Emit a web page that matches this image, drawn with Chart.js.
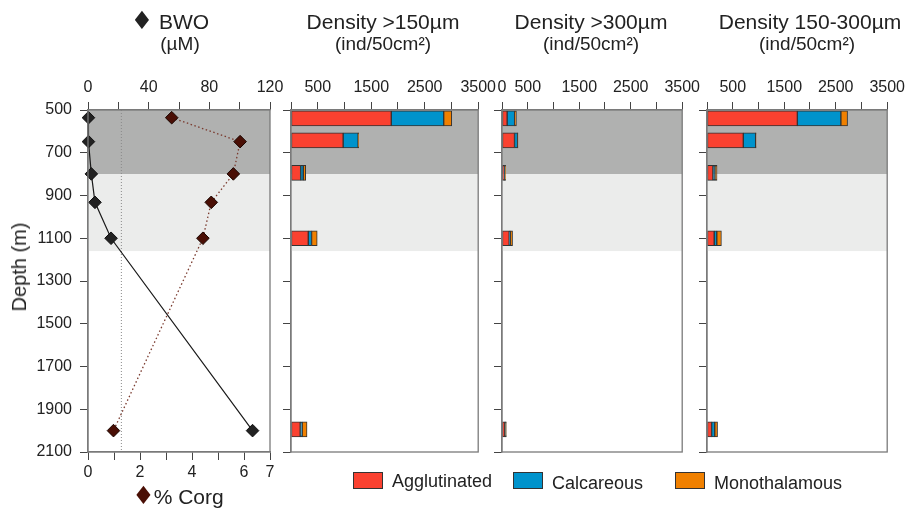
<!DOCTYPE html>
<html>
<head>
<meta charset="utf-8">
<script src="https://cdn.jsdelivr.net/npm/chart.js@4.4.0/dist/chart.umd.min.js"></script>
<style>
  body { margin: 0; background: #fff; font-family: "Liberation Sans", Arial, sans-serif; color: #222; }
  #wrap { position: relative; width: 914px; height: 508px; overflow: hidden; }
  canvas { position: absolute; top: 0; }
  .txt { position: absolute; white-space: nowrap; z-index: 5; }
  .ctr { transform: translateX(-50%); }
  .ttl { font-size: 21px; line-height: 21px; top: 11px; }
  .sub { font-size: 19px; line-height: 19px; top: 34px; }
  .dia { font-family: "DejaVu Sans", sans-serif; font-size: 25px; line-height: 0; }
  .box { position: absolute; width: 28px; height: 15px; border: 1px solid #333; z-index: 5; }
  .leg { font-size: 18px; line-height: 18px; }
</style>
</head>
<body>
<div id="wrap">
  <canvas id="p1" width="292" height="508" style="left:0px"></canvas>
  <canvas id="p2" width="222" height="508" style="left:279px"></canvas>
  <canvas id="p3" width="215" height="508" style="left:490px"></canvas>
  <canvas id="p4" width="215" height="508" style="left:695px"></canvas>

  <div class="txt ttl ctr" style="left:170px"><span class="dia">♦</span> BWO</div>
  <div class="txt sub ctr" style="left:180px">(µM)</div>
  <div class="txt ttl ctr" style="left:383px">Density &gt;150µm</div>
  <div class="txt sub ctr" style="left:383px">(ind/50cm²)</div>
  <div class="txt ttl ctr" style="left:591px">Density &gt;300µm</div>
  <div class="txt sub ctr" style="left:591px">(ind/50cm²)</div>
  <div class="txt ttl ctr" style="left:810px">Density 150-300µm</div>
  <div class="txt sub ctr" style="left:807px">(ind/50cm²)</div>

  <div class="txt" style="left:19px;top:267px;font-size:20px;line-height:20px;transform:translate(-50%,-50%) rotate(-90deg)">Depth (m)</div>
  <div class="txt ctr" style="left:178px;top:486px;font-size:21px;line-height:21px"><span class="dia" style="color:#4a0f05;margin-right:-1px">♦</span>% Corg</div>

  <div class="box" style="left:353px;top:472px;background:#fa4130"></div>
  <div class="txt leg" style="left:392px;top:472px">Agglutinated</div>
  <div class="box" style="left:513px;top:472px;background:#0093cc"></div>
  <div class="txt leg" style="left:552px;top:474px">Calcareous</div>
  <div class="box" style="left:675px;top:472px;background:#f08000"></div>
  <div class="txt leg" style="left:714px;top:474px">Monothalamous</div>
</div>

<script>
// 관측 정점 수심 (m) 과 프로파일 값
const stationDepth = [536, 648, 799, 932, 1100, 2000];
const bwo = [0.3, 0.3, 2.2, 4.6, 15.2, 108.5];
const corg = [3.22, 5.85, 5.59, 4.74, 4.42, 0.98];
const bwoThreshold = 22;

// 음영 구간 (m)
const zoneTop = [500, 800];
const zoneBottom = [800, 1160];

// 막대 수심 (m)
const barDepth = [539, 642, 794, 1100, 1994];

// Density >150µm
const agg150 = [1875, 975, 180, 323, 172];
const calc150 = [980, 280, 50, 62, 37];
const mono150 = [150, 10, 45, 105, 91];

// Density >300µm
const agg300 = [100, 243, 48, 140, 55];
const calc300 = [145, 60, 6, 20, 10];
const mono300 = [35, 8, 16, 45, 20];

// Density 150-300µm
const aggMid = [1755, 705, 115, 140, 90];
const calcMid = [845, 240, 40, 50, 60];
const monoMid = [130, 10, 40, 90, 55];

const groupNames = ['Agglutinated', 'Calcareous', 'Monothalamous'];

// 눈금 라벨
const bwoLabels = [0, 40, 80, 120];
const corgLabels = [0, 2, 4, 6, 7];
const densityLabels = [500, 1500, 2500, 3500];
const densityLabels300 = [0, 500, 1500, 2500, 3500];

const zoneColors = ['#b0b1b0', '#ebeceb'];
const groupColors = ['#fa4130', '#0093cc', '#f08000'];

Chart.defaults.font.family = '"Liberation Sans", Arial, sans-serif';
Chart.defaults.font.size = 16;
Chart.defaults.color = '#222';
Chart.defaults.animation = false;
Chart.defaults.plugins.legend.display = false;
Chart.defaults.plugins.tooltip.enabled = false;

// 음영 구간과 테두리
const zonePlugin = {
  id: 'zones',
  beforeDatasetsDraw(chart) {
    const { ctx, chartArea, scales } = chart;
    const y = scales.y;
    ctx.save();
    zoneTop.forEach((t, i) => {
      const y1 = y.getPixelForValue(t);
      const y2 = y.getPixelForValue(zoneBottom[i]);
      ctx.fillStyle = zoneColors[i];
      ctx.fillRect(chartArea.left, y1, chartArea.right - chartArea.left, y2 - y1);
    });
    ctx.restore();
  },
  afterDatasetsDraw(chart) {
    const { ctx, chartArea } = chart;
    ctx.save();
    ctx.strokeStyle = '#7a7a7a';
    ctx.lineWidth = 1.3;
    ctx.strokeRect(chartArea.left, chartArea.top, chartArea.right - chartArea.left, chartArea.bottom - chartArea.top);
    ctx.restore();
  }
};

const tickGrid = { display: true, drawOnChartArea: false, drawTicks: true, tickLength: 8, color: '#444', offset: false };
const axisBorder = { display: true, color: '#7a7a7a', width: 1.3 };

function depthAxis(width, showLabels) {
  return {
    type: 'linear',
    min: 500,
    max: 2100,
    reverse: true,
    offset: false,
    stacked: true,
    ticks: { stepSize: 200, padding: 8, display: showLabels, autoSkip: false, callback: (v) => String(v) },
    grid: tickGrid,
    border: axisBorder,
    afterFit: (s) => { s.width = width; }
  };
}

function topAxis(min, max, step, labels, height) {
  return {
    type: 'linear',
    position: 'top',
    min: min,
    max: max,
    stacked: true,
    ticks: {
      stepSize: step, padding: 5, autoSkip: false, maxRotation: 0,
      callback: (v) => labels.includes(v) ? String(v) : ''
    },
    grid: tickGrid,
    border: axisBorder,
    afterFit: (s) => { s.height = height; }
  };
}

function toPoints(xs, depths) {
  return xs.map((v, i) => ({ x: v, y: depths[i] }));
}

// 패널 1 : BWO / %Corg 프로파일
new Chart(document.getElementById('p1'), {
  type: 'scatter',
  data: {
    datasets: [
      {
        label: 'BWO',
        data: toPoints(bwo, stationDepth),
        xAxisID: 'xBwo', yAxisID: 'y',
        showLine: true, clip: false,
        borderColor: '#1a1a1a', borderWidth: 1.2,
        pointStyle: 'rectRot', pointRadius: 6.3,
        pointBackgroundColor: '#222', pointBorderColor: '#111', pointBorderWidth: 1,
        order: 1
      },
      {
        label: '% Corg',
        data: toPoints(corg, stationDepth),
        xAxisID: 'xCorg', yAxisID: 'y',
        showLine: true, clip: false,
        borderColor: '#7a3a2e', borderWidth: 1.3, borderDash: [1.5, 2.5],
        pointStyle: 'rectRot', pointRadius: 6.3,
        pointBackgroundColor: '#4a0f05', pointBorderColor: '#1a0500', pointBorderWidth: 1,
        order: 2
      },
      {
        label: 'threshold',
        data: [{ x: bwoThreshold, y: 500 }, { x: bwoThreshold, y: 2100 }],
        xAxisID: 'xBwo', yAxisID: 'y',
        showLine: true,
        borderColor: '#8a8a8a', borderWidth: 1, borderDash: [1, 2],
        pointRadius: 0,
        order: 3
      }
    ]
  },
  options: {
    responsive: false,
    devicePixelRatio: 1,
    layout: { padding: { left: 0, right: 22, top: 0, bottom: 0 } },
    scales: {
      xBwo: topAxis(0, 120, 20, bwoLabels, 110),
      xCorg: {
        type: 'linear',
        position: 'bottom',
        min: 0, max: 7,
        ticks: {
          stepSize: 1, padding: 3, autoSkip: false, maxRotation: 0,
          callback: (v) => corgLabels.includes(v) ? String(v) : ''
        },
        grid: tickGrid,
        border: axisBorder,
        afterFit: (s) => { s.height = 56; }
      },
      y: depthAxis(88, true)
    }
  },
  plugins: [zonePlugin]
});

// 패널 2~4 : 밀도 막대
function densityChart(id, agg, calc, mono, labels) {
  const series = [agg, calc, mono];
  new Chart(document.getElementById(id), {
    type: 'bar',
    data: {
      datasets: series.map((vals, i) => ({
        label: groupNames[i],
        data: toPoints(vals, barDepth),
        backgroundColor: groupColors[i],
        borderColor: '#333',
        borderWidth: 1,
        borderSkipped: false,
        barThickness: 15
      }))
    },
    options: {
      indexAxis: 'y',
      responsive: false,
      devicePixelRatio: 1,
      layout: { padding: { left: 0, right: 22, top: 0, bottom: 56 } },
      scales: {
        x: topAxis(0, 3500, 500, labels, 110),
        y: depthAxis(12, false)
      }
    },
    plugins: [zonePlugin]
  });
}

densityChart('p2', agg150, calc150, mono150, densityLabels);
densityChart('p3', agg300, calc300, mono300, densityLabels300);
densityChart('p4', aggMid, calcMid, monoMid, densityLabels);
</script>
</body>
</html>
